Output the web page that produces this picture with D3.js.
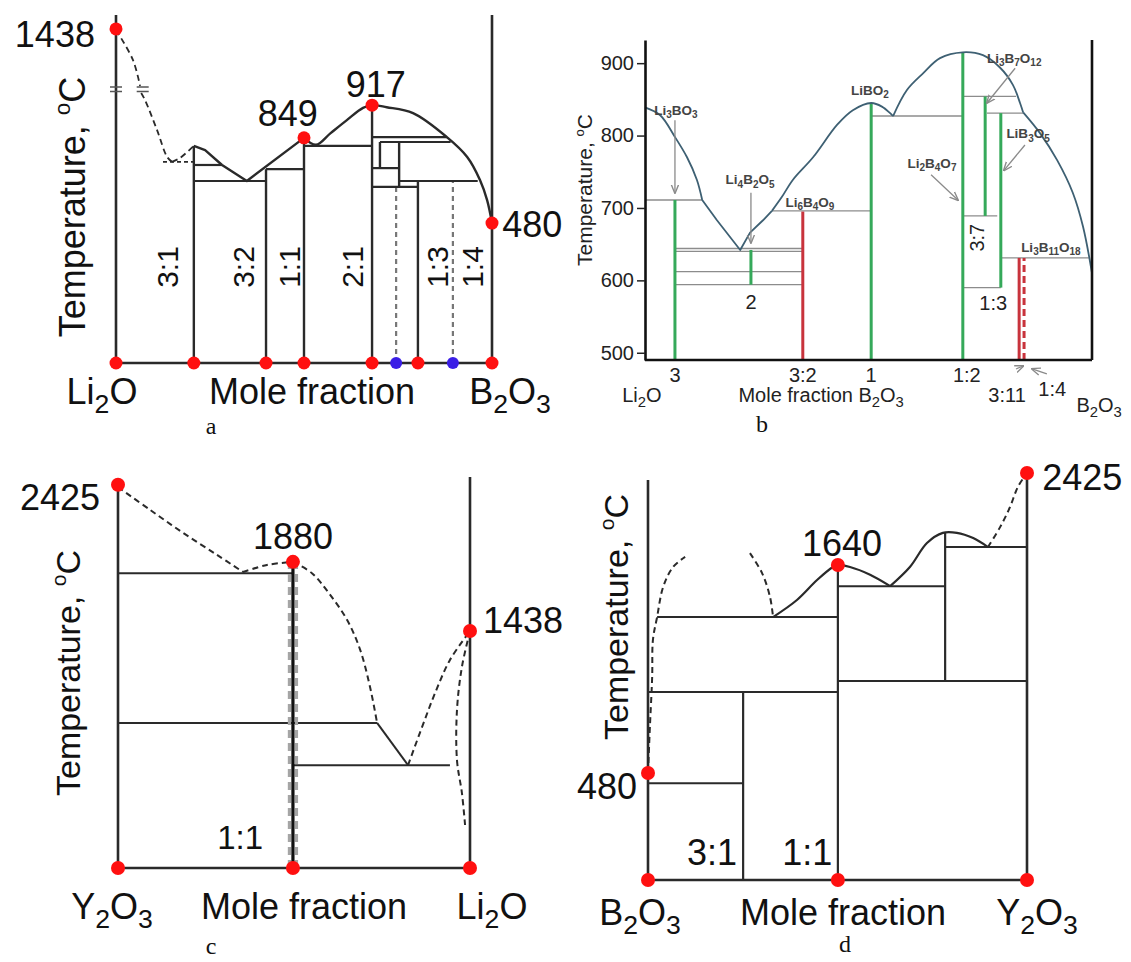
<!DOCTYPE html>
<html>
<head>
<meta charset="utf-8">
<script src="https://cdn.jsdelivr.net/npm/d3@7"></script>
<style>
  body { margin: 0; background: #fff; }
  svg { display: block; }
</style>
</head>
<body>
<svg id="fig" width="1131" height="962"></svg>
<script>
// ── Panel a: Li2O–B2O3 (schematic, x = mole fraction, y = relative level 0..100) ──
const aVerticals = [[0.207, 0, 62.4], [0.399, 0, 55.7], [0.500, 0, 64.7], [0.681, 0, 74.1],
  [0.702, 56.0, 63.5], [0.753, 50.6, 63.5], [0.803, 0, 52.3]];
const aHorizontals = [[0.207, 0.282, 56.9], [0.207, 0.399, 52.3], [0.399, 0.500, 55.7],
  [0.500, 0.681, 62.4], [0.681, 0.880, 64.9], [0.702, 0.890, 63.5], [0.681, 0.753, 56.0],
  [0.753, 0.962, 52.3], [0.681, 0.803, 50.6]];
const aLiquidusKinked = [[0.207, 62.4], [0.237, 61.2], [0.282, 56.9], [0.348, 52.3], [0.500, 64.7]];
const aLiquidusSmooth = [[0.500, 64.7], [0.532, 62.7], [0.570, 66.0], [0.614, 69.8], [0.657, 73.3],
  [0.681, 74.1], [0.720, 73.5], [0.790, 71.8], [0.880, 64.9], [0.934, 59.2], [0.968, 52.6],
  [0.987, 46.8], [1, 40.2]];
const aDashedTop = [[0, 95.7], [0.045, 87.1], [0.064, 79.6]];
const aDashedDown = [[0.067, 77.6], [0.077, 75.6], [0.109, 67.0], [0.136, 59.2], [0.149, 57.8]];
const aDashedUp = [[0.149, 57.8], [0.170, 58.9], [0.207, 62.4]];
const aDashedFlat = [[0.125, 57.8], [0.207, 57.8]];
const aGrayDashed = [[0.745, 0, 50.6], [0.896, 0, 52.3]];
const aBreaks = [0, 0.071];
const aRedDots = [[0, 0], [0.207, 0], [0.399, 0], [0.500, 0], [0.681, 0], [0.803, 0], [1, 0],
  [0, 96.0], [0.500, 64.7], [0.681, 74.1], [1, 40.2]];
const aBlueDots = [[0.745, 0], [0.896, 0]];
const aValueLabels = [
  { t: '1438', x: -0.056, y: 94.5, anchor: 'end' },
  { t: '849', x: 0.457, y: 71.6, anchor: 'middle' },
  { t: '917', x: 0.691, y: 80.2, anchor: 'middle' },
  { t: '480', x: 1.027, y: 39.9, anchor: 'start' }];
const aRatioLabels = [['3:1', 0.138], ['3:2', 0.338], ['1:1', 0.462], ['2:1', 0.628], ['1:3', 0.854], ['1:4', 0.947]];

// ── Panel b: Li2O–B2O3 (temperature in °C) ──
const bTicks = [500, 600, 700, 800, 900];
const bLiquidus = [
  { curve: 'smooth', pts: [[0, 839], [0.034, 828], [0.067, 798], [0.094, 770], [0.116, 739], [0.128, 711]] },
  { curve: 'linear', pts: [[0.128, 711], [0.161, 683], [0.213, 642], [0.235, 666], [0.264, 683], [0.284, 696]] },
  { curve: 'smooth', pts: [[0.284, 696], [0.306, 715], [0.331, 739], [0.376, 770], [0.430, 815], [0.465, 835],
    [0.506, 845], [0.530, 840], [0.555, 827]] },
  { curve: 'smooth', pts: [[0.555, 827], [0.586, 863], [0.622, 886], [0.660, 907], [0.711, 915], [0.756, 911],
    [0.794, 894], [0.823, 870], [0.839, 845], [0.846, 832]] },
  { curve: 'smooth', pts: [[0.846, 832], [0.884, 803], [0.922, 766], [0.957, 721], [0.980, 674], [1, 610]] }];
const bGrayLines = [[0, 0.128, 711], [0.067, 0.353, 644], [0.067, 0.353, 640], [0.067, 0.353, 612],
  [0.067, 0.353, 594], [0.284, 0.506, 696], [0.506, 0.711, 827], [0.711, 0.830, 854], [0.711, 0.788, 689],
  [0.765, 0.846, 831], [0.711, 0.796, 590], [0.796, 0.993, 631]];
const bGreenLines = [[0.067, 490, 711], [0.237, 594, 642], [0.506, 490, 845], [0.711, 490, 915],
  [0.761, 689, 854], [0.796, 590, 831]];
const bRedLines = [[0.353, 490, 695], [0.837, 490, 631]];
const bRedDashed = [[0.848, 490, 631]];
const bArrows = [[0.067, 821, 0.067, 721], [0.237, 721, 0.237, 652], [0.828, 893, 0.765, 845],
  [0.850, 787, 0.803, 752], [0.640, 746, 0.700, 711], [0.830, 477.6, 0.846, 481.7], [0.899, 470.7, 0.866, 477.6]];
const bCompounds = [
  { t: 'Li_3BO_3', x: 0.069, T: 835 }, { t: 'Li_4B_2O_5', x: 0.235, T: 739 },
  { t: 'Li_6B_4O_9', x: 0.369, T: 708 }, { t: 'LiBO_2', x: 0.503, T: 863 },
  { t: 'Li_3B_7O_12', x: 0.826, T: 907 }, { t: 'LiB_3O_5', x: 0.857, T: 803 },
  { t: 'Li_2B_4O_7', x: 0.642, T: 762 }, { t: 'Li_3B_11O_18', x: 0.908, T: 646 }];
const bInnerLabels = [{ t: '3:7', x: 0.743, T: 659, rot: true }, { t: '1:3', x: 0.779, T: 569 },
  { t: '2', x: 0.237, T: 570 }];
const bAxisLabels = [
  { t: '3', x: 0.067, row: 0 }, { t: '3:2', x: 0.353, row: 0 }, { t: '1', x: 0.506, row: 0 },
  { t: '1:2', x: 0.720, row: 0 }, { t: 'Li_2O', x: -0.007, row: 2 }, { t: 'Mole fraction B_2O_3', x: 0.394, row: 2 },
  { t: '3:11', x: 0.810, row: 2 }, { t: '1:4', x: 0.911, row: 1 }, { t: 'B_2O_3', x: 1.016, row: 3 }];

// ── Panel c: Y2O3–Li2O (schematic) ──
const cHorizontals = [[0, 0.497, 75.4], [0, 0.497, 37.1], [0.497, 0.736, 37.1], [0.497, 0.943, 26.3]];
const cSolidCurve = [[0.736, 37.1], [0.824, 26.3]];
const cDashed = [
  [[0, 97.4], [0.091, 91.6], [0.185, 85.7], [0.281, 80.1], [0.355, 75.7]],
  [[0.355, 75.7], [0.423, 77.5], [0.497, 78.3]],
  [[0.497, 78.3], [0.551, 75.4], [0.599, 70.3], [0.651, 63.4], [0.688, 55.8], [0.716, 46.3], [0.736, 37.1]],
  [[0.824, 26.3], [0.864, 36.1], [0.901, 44.8], [0.943, 53.2], [1, 60.6]],
  [[1, 60.6], [0.977, 51.4], [0.963, 40.4], [0.963, 27.6], [0.977, 19.2], [0.986, 11.0]]];
const cCompound = [0.497, 0, 78.3];
const cGrayDashed = [[0.487, 0, 77.5], [0.507, 0, 77.5]];
const cRedDots = [[0, 98], [0.497, 78.3], [1, 60.6], [0, 0], [0.497, 0], [1, 0]];
const cValueLabels = [
  { t: '2425', x: -0.051, y: 94.9, anchor: 'end' },
  { t: '1880', x: 0.497, y: 84.7, anchor: 'middle' },
  { t: '1438', x: 1.037, y: 63.4, anchor: 'start' },
  { t: '1:1', x: 0.347, y: 7.7, anchor: 'middle' }];

// ── Panel d: B2O3–Y2O3 (schematic) ──
const dVerticals = [[0.251, 0, 46.2], [0.501, 0, 77.4], [0.784, 48.9, 85.3]];
const dHorizontals = [[0.024, 0.501, 64.6], [0, 0.501, 46.2], [0, 0.251, 23.8], [0.501, 0.784, 72.2],
  [0.501, 1, 48.9], [0.784, 1, 81.8]];
const dSolid = [
  [[0.330, 64.6], [0.393, 68.8], [0.446, 73.7], [0.488, 76.9], [0.501, 77.4], [0.533, 76.9], [0.586, 75.0], [0.639, 72.2]],
  [[0.639, 72.2], [0.691, 76.9], [0.736, 82.8], [0.778, 85.3], [0.815, 85.3], [0.858, 84.0], [0.897, 81.8]]];
const dDashed = [
  [[0, 26.3], [0.005, 37.6], [0.011, 49.9], [0.013, 59.0], [0.024, 64.6], [0.040, 72.0], [0.066, 76.9], [0.098, 79.4]],
  [[0.269, 80.3], [0.301, 75.4], [0.322, 69.5], [0.330, 64.6]],
  [[0.897, 81.8], [0.929, 86.7], [0.955, 91.6], [0.976, 96.6], [1, 100]]];
const dRedDots = [[0, 26.3], [0.501, 77.4], [1, 100], [0, 0], [0.501, 0], [1, 0]];
const dValueLabels = [
  { t: '480', x: -0.029, y: 22.9, anchor: 'end' },
  { t: '1640', x: 0.512, y: 82.8, anchor: 'middle' },
  { t: '2425', x: 1.040, y: 98.8, anchor: 'start' },
  { t: '3:1', x: 0.169, y: 6.9, anchor: 'middle' },
  { t: '1:1', x: 0.420, y: 6.9, anchor: 'middle' }];

// ── Drawing ──────────────────────────────────────────────────────
const FONT = '"Liberation Sans", Arial, Helvetica, sans-serif';
const SERIF = '"Liberation Serif", "Times New Roman", serif';
const INK = '#2a2a2a';
const RED = '#ff1010';
const svg = d3.select('#fig').attr('font-family', FONT);

// Text with "_12" subscripts and "^o" superscripts; y is the visual centre
function label(g, str, o) {
  const size = o.size;
  const t = g.append('text')
    .attr('x', o.x).attr('y', o.y + size * 0.35)
    .attr('font-size', size)
    .attr('font-weight', o.weight || 'normal')
    .attr('font-family', o.family || FONT)
    .attr('fill', o.fill || '#111')
    .attr('text-anchor', o.anchor || 'middle');
  if (o.rotate) t.attr('transform', `rotate(${o.rotate},${o.x},${o.y})`);
  let base = 0;
  for (const tok of str.match(/_\d+|\^\w|[^_^]+/g)) {
    const s = t.append('tspan');
    if (tok[0] === '_') {
      const off = size * 0.26;
      s.text(tok.slice(1)).attr('font-size', size * 0.74).attr('dy', off - base);
      base = off;
    } else if (tok[0] === '^') {
      const off = -size * 0.4;
      s.text(tok.slice(1)).attr('font-size', size * 0.62).attr('dy', off - base);
      base = off;
    } else {
      s.text(tok).attr('dy', -base);
      base = 0;
    }
  }
  return t;
}

function hLines(g, x, y, rows, stroke, width) {
  g.append('g').selectAll('line').data(rows).join('line')
    .attr('x1', d => x(d[0])).attr('x2', d => x(d[1]))
    .attr('y1', d => y(d[2])).attr('y2', d => y(d[2]))
    .attr('stroke', stroke).attr('stroke-width', width);
}

function vLines(g, x, y, rows, stroke, width, dash) {
  g.append('g').selectAll('line').data(rows).join('line')
    .attr('x1', d => x(d[0])).attr('x2', d => x(d[0]))
    .attr('y1', d => y(d[1])).attr('y2', d => y(d[2]))
    .attr('stroke', stroke).attr('stroke-width', width)
    .attr('stroke-dasharray', dash || null);
}

function curve(g, x, y, pts, o) {
  const line = d3.line().x(d => x(d[0])).y(d => y(d[1]))
    .curve(o.smooth ? d3.curveCatmullRom.alpha(0.5) : d3.curveLinear);
  g.append('path').attr('d', line(pts)).attr('fill', 'none')
    .attr('stroke', o.stroke || INK).attr('stroke-width', o.width || 2.2)
    .attr('stroke-dasharray', o.dash || null).attr('stroke-linejoin', 'round');
}

function dots(g, x, y, pts, color, r) {
  g.append('g').selectAll('circle').data(pts).join('circle')
    .attr('cx', d => x(d[0])).attr('cy', d => y(d[1])).attr('r', r).attr('fill', color);
}

function frame(g, x, y, leftTop, rightTop) {
  vLines(g, x, y, [[0, 0, leftTop], [1, 0, rightTop]], INK, 2.6);
  hLines(g, x, y, [[0, 1, 0]], INK, 2.6);
}

const DASH = '6,4';

// ── a ──
{
  const g = svg.append('g');
  const x = d3.scaleLinear().domain([0, 1]).range([116, 492]);
  const y = d3.scaleLinear().domain([0, 100]).range([363, 15]);
  vLines(g, x, y, aGrayDashed, '#777', 2.2, '5,4');
  frame(g, x, y, 100, 100);
  vLines(g, x, y, aVerticals, INK, 2.4);
  hLines(g, x, y, aHorizontals, INK, 2.2);
  curve(g, x, y, aLiquidusKinked, { width: 2.4 });
  curve(g, x, y, aLiquidusSmooth, { smooth: true, width: 2.4 });
  curve(g, x, y, aDashedTop, { smooth: true, dash: DASH, width: 1.8 });
  curve(g, x, y, aDashedDown, { smooth: true, dash: DASH, width: 1.8 });
  curve(g, x, y, aDashedUp, { smooth: true, dash: DASH, width: 1.8 });
  curve(g, x, y, aDashedFlat, { dash: '4,3', width: 1.8 });
  // axis-break marks
  g.append('g').selectAll('path').data(aBreaks).join('path')
    .attr('d', d => `M${x(d) - 6},${y(79.3)}h12M${x(d) - 6},${y(78)}h12`)
    .attr('stroke', '#555').attr('stroke-width', 1.6);
  dots(g, x, y, aRedDots, RED, 6.5);
  dots(g, x, y, aBlueDots, '#3a1ee6', 6);
  aValueLabels.forEach(d => label(g, d.t, { x: x(d.x), y: y(d.y), size: 36, anchor: d.anchor }));
  aRatioLabels.forEach(d => label(g, d[0], { x: x(d[1]), y: y(27.6), size: 30, rotate: -90 }));
  label(g, 'Temperature, ^oC', { x: 72, y: 207, size: 36, rotate: -90 });
  label(g, 'Li_2O', { x: 102, y: 391, size: 36 });
  label(g, 'Mole fraction', { x: 312, y: 391, size: 36 });
  label(g, 'B_2O_3', { x: 510, y: 391, size: 36 });
  label(g, 'a', { x: 211, y: 426, size: 24, family: SERIF });
}

// ── b ──
{
  const g = svg.append('g');
  const x = d3.scaleLinear().domain([0, 1]).range([645, 1092]);
  const y = d3.scaleLinear().domain([490, 932]).range([360, 40]);

  hLines(g, x, y, bGrayLines, '#8c8c8c', 1.3);
  vLines(g, x, y, bGreenLines, '#35a95a', 3);
  vLines(g, x, y, bRedLines, '#c8333c', 3);
  vLines(g, x, y, bRedDashed, '#c8333c', 3, '7,4');
  bLiquidus.forEach(s => curve(g, x, y, s.pts, { smooth: s.curve === 'smooth', stroke: '#3e6073', width: 1.8 }));

  const defs = svg.append('defs');
  defs.append('marker').attr('id', 'arr').attr('viewBox', '0 0 10 10').attr('refX', 9).attr('refY', 5)
    .attr('markerWidth', 7).attr('markerHeight', 7).attr('orient', 'auto')
    .append('path').attr('d', 'M0,1L10,5L0,9').attr('fill', 'none').attr('stroke', '#8a8a8a').attr('stroke-width', 1.5);
  g.append('g').selectAll('line').data(bArrows).join('line')
    .attr('x1', d => x(d[0])).attr('y1', d => y(d[1])).attr('x2', d => x(d[2])).attr('y2', d => y(d[3]))
    .attr('stroke', '#8a8a8a').attr('stroke-width', 1.3).attr('marker-end', 'url(#arr)');

  // axes
  const ax = g.append('g').attr('transform', `translate(${x(0)},0)`)
    .call(d3.axisLeft(y).tickValues(bTicks).tickSize(8).tickSizeOuter(0).tickPadding(3).tickFormat(d3.format('d')));
  ax.select('.domain').attr('stroke', '#111').attr('stroke-width', 2.6);
  ax.selectAll('.tick line').attr('stroke', '#222').attr('stroke-width', 1.5);
  ax.selectAll('.tick text').attr('font-size', 20).attr('font-family', FONT).attr('fill', '#222');
  vLines(g, x, y, [[1, 490, 932]], '#111', 2.6);
  hLines(g, x, y, [[0, 1, 490]], '#111', 2.6);

  bCompounds.forEach(d => label(g, d.t, { x: x(d.x), y: y(d.T), size: 13.5, weight: 'bold', fill: '#444' }));
  bInnerLabels.forEach(d => label(g, d.t, { x: x(d.x), y: y(d.T), size: 20, rotate: d.rot ? -90 : 0, fill: '#222' }));
  const rowY = [375, 389, 395, 405];
  bAxisLabels.forEach(d => label(g, d.t, { x: x(d.x), y: rowY[d.row], size: 20, fill: '#222' }));
  label(g, 'Temperature, ^oC', { x: 585, y: 190, size: 21, rotate: -90, fill: '#222' });
  label(g, 'b', { x: 762, y: 424, size: 24, family: SERIF });
}

// ── c ──
{
  const g = svg.append('g');
  const x = d3.scaleLinear().domain([0, 1]).range([118, 470]);
  const y = d3.scaleLinear().domain([0, 100]).range([868, 477]);
  frame(g, x, y, 98, 100);
  hLines(g, x, y, cHorizontals, INK, 2);
  curve(g, x, y, cSolidCurve, { width: 2 });
  cDashed.forEach(p => curve(g, x, y, p, { smooth: true, dash: DASH, width: 2 }));
  vLines(g, x, y, cGrayDashed, '#a5a5a5', 3.2, '8,5');
  vLines(g, x, y, [cCompound], '#111', 3.2);
  dots(g, x, y, cRedDots, RED, 7);
  cValueLabels.forEach(d => label(g, d.t, { x: x(d.x), y: y(d.y), size: d.t.includes(':') ? 33 : 36, anchor: d.anchor }));
  label(g, 'Temperature, ^oC', { x: 68, y: 673, size: 34, rotate: -90 });
  label(g, 'Y_2O_3', { x: 112, y: 906, size: 36 });
  label(g, 'Mole fraction', { x: 304, y: 906, size: 36 });
  label(g, 'Li_2O', { x: 492, y: 906, size: 36 });
  label(g, 'c', { x: 211, y: 946, size: 24, family: SERIF });
}

// ── d ──
{
  const g = svg.append('g');
  const x = d3.scaleLinear().domain([0, 1]).range([648, 1027]);
  const y = d3.scaleLinear().domain([0, 100]).range([880, 473]);
  frame(g, x, y, 98.3, 100);
  vLines(g, x, y, dVerticals, INK, 2.2);
  hLines(g, x, y, dHorizontals, INK, 2);
  dSolid.forEach(p => curve(g, x, y, p, { smooth: true, width: 2.2 }));
  dDashed.forEach(p => curve(g, x, y, p, { smooth: true, dash: DASH, width: 2 }));
  dots(g, x, y, dRedDots, RED, 7);
  dValueLabels.forEach(d => label(g, d.t, { x: x(d.x), y: y(d.y), size: 36, anchor: d.anchor }));
  label(g, 'Temperature, ^oC', { x: 616, y: 617, size: 34, rotate: -90 });
  label(g, 'B_2O_3', { x: 640, y: 912, size: 36 });
  label(g, 'Mole fraction', { x: 843, y: 912, size: 36 });
  label(g, 'Y_2O_3', { x: 1037, y: 912, size: 36 });
  label(g, 'd', { x: 845, y: 944, size: 24, family: SERIF });
}
</script>
</body>
</html>
